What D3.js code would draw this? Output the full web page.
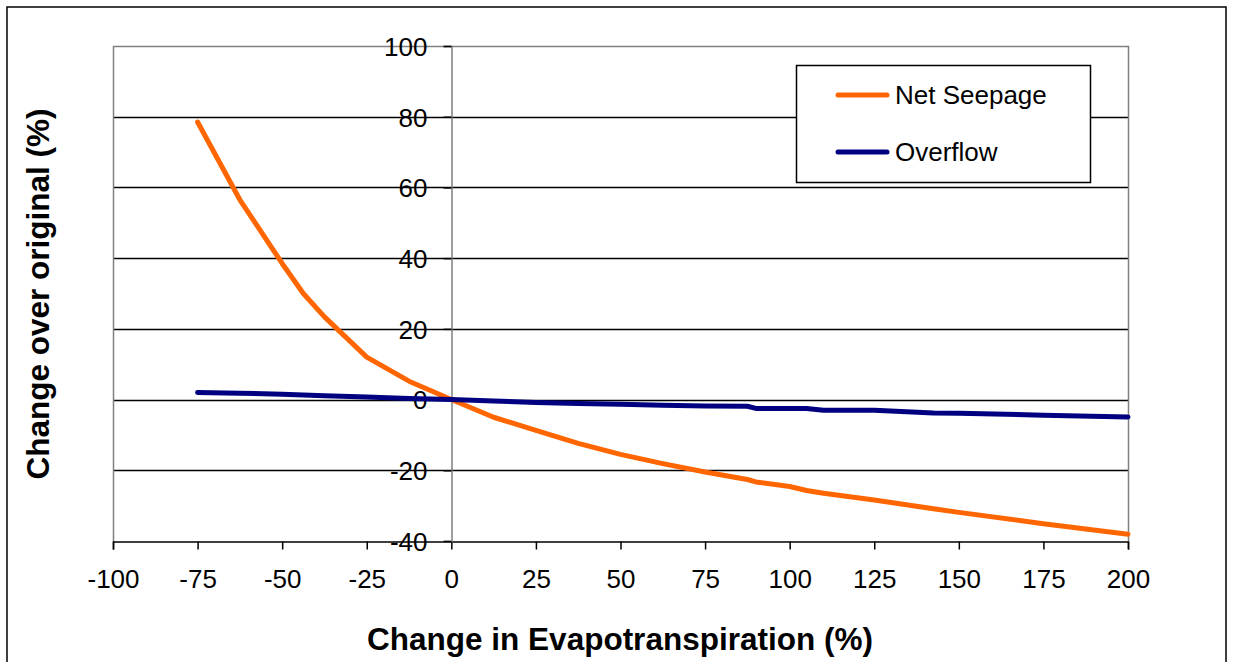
<!DOCTYPE html>
<html>
<head>
<meta charset="utf-8">
<script src="https://cdn.jsdelivr.net/npm/d3@7"></script>
<style>
  html, body { margin: 0; padding: 0; background: #fff; }
  svg { display: block; }
  text { font-family: "Liberation Sans", Arial, sans-serif; }
</style>
</head>
<body>
<svg id="chart" width="1236" height="662"></svg>
<script>
// ---- data ----
const etChange = [-75, -62.5, -50, -43.75, -37.5, -25, -12.5, 0, 12.5, 25, 37.5, 50, 62.5, 75, 87.5, 90, 100, 105, 110, 125, 142.5, 150, 175, 200];
const netSeepage = [78.5, 56.5, 38.5, 30, 23.4, 12, 5.2, 0, -5, -8.7, -12.4, -15.5, -18.1, -20.5, -22.6, -23.3, -24.6, -25.7, -26.5, -28.4, -30.9, -31.9, -35.1, -38.1];
const overflow = [2.0, 1.8, 1.5, 1.3, 1.1, 0.7, 0.3, 0, -0.4, -0.8, -1.1, -1.3, -1.6, -1.8, -1.9, -2.5, -2.5, -2.5, -3.0, -3.0, -3.8, -3.9, -4.4, -4.9];
const xTicks = [-100, -75, -50, -25, 0, 25, 50, 75, 100, 125, 150, 175, 200];
const yTicks = [-40, -20, 0, 20, 40, 60, 80, 100];
const seriesNames = ["Net Seepage", "Overflow"];
const seriesColors = ["#FF6600", "#000080"];
const xTitle = "Change in Evapotranspiration (%)";
const yTitle = "Change over original (%)";

(function () {
const svg = d3.select("#chart");
const pL = 113, pR = 1128, pT = 46, pB = 541;
const fmt = d => String(d);

const x = d3.scaleLinear().domain([-100, 200]).range([pL, pR]);
const y = d3.scaleLinear().domain([-40, 100]).range([pB, pT]);

// outer frame
svg.append("rect").attr("x", 7).attr("y", 7).attr("width", 1219).attr("height", 670)
  .attr("fill", "none").attr("stroke", "#000").attr("stroke-width", 1.5);

// gridlines
svg.append("g").selectAll("line").data(yTicks.filter(d => d !== 100 && d !== -40)).join("line")
  .attr("x1", pL).attr("x2", pR)
  .attr("y1", d => Math.round(y(d)) + 0.5).attr("y2", d => Math.round(y(d)) + 0.5)
  .attr("stroke", "#000").attr("stroke-width", 1.5);

// plot border (top, left, right) gray
svg.append("path")
  .attr("d", `M${pL+0.5},${pB} V${pT+0.5} H${pR+0.5} V${pB}`)
  .attr("fill", "none").attr("stroke", "#808080").attr("stroke-width", 1.5);

// x axis at y = -40
const xAxis = d3.axisBottom(x).tickValues(xTicks).tickSize(8).tickPadding(20).tickFormat(fmt);
const gx = svg.append("g").attr("transform", `translate(0,${Math.round(y(-40)) + 0.5})`).call(xAxis);
gx.select(".domain").attr("stroke", "#000").attr("stroke-width", 1.5);
gx.selectAll(".tick line").attr("stroke", "#000").attr("stroke-width", 1.5);
gx.selectAll(".tick text").attr("font-size", 26).attr("fill", "#000")
  .style("font-family", '"Liberation Sans", Arial, sans-serif');

// y axis at x = 0
const yAxis = d3.axisLeft(y).tickValues(yTicks).tickSize(8).tickPadding(16).tickFormat(fmt);
const gy = svg.append("g").attr("transform", `translate(${Math.round(x(0)) + 0.5},0)`).call(yAxis);
gy.select(".domain").attr("stroke", "#808080").attr("stroke-width", 1.5);
gy.selectAll(".tick line").attr("stroke", "#000").attr("stroke-width", 1.5);
gy.selectAll(".tick text").attr("font-size", 26).attr("fill", "#000").attr("dy", "0.36em")
  .style("font-family", '"Liberation Sans", Arial, sans-serif');

// lines
const series = [netSeepage, overflow];
const line = d3.line().x((d, i) => x(etChange[i])).y(d => y(d));
series.forEach((vals, k) => {
  svg.append("path").datum(vals).attr("d", line)
    .attr("fill", "none").attr("stroke", seriesColors[k]).attr("stroke-width", 5)
    .attr("stroke-linejoin", "round").attr("stroke-linecap", "round");
});

// legend
const lg = svg.append("g");
lg.append("rect").attr("x", 796.5).attr("y", 65.5).attr("width", 294).attr("height", 117)
  .attr("fill", "#fff").attr("stroke", "#000").attr("stroke-width", 1.5);
const legendY = [95, 152];
seriesNames.forEach((name, k) => {
  lg.append("line").attr("x1", 838).attr("x2", 887).attr("y1", legendY[k]).attr("y2", legendY[k])
    .attr("stroke", seriesColors[k]).attr("stroke-width", 5).attr("stroke-linecap", "round");
  lg.append("text").attr("x", 895).attr("y", legendY[k]).attr("dy", "0.36em")
    .attr("font-size", 26).attr("fill", "#000").text(name);
});

// axis titles
svg.append("text").attr("x", 620).attr("y", 639).attr("dy", "0.36em").attr("text-anchor", "middle")
  .attr("font-size", 31.5).attr("font-weight", "bold").attr("fill", "#000").text(xTitle);
svg.append("text").attr("transform", "translate(38,294) rotate(-90)").attr("dy", "0.36em")
  .attr("text-anchor", "middle").attr("font-size", 31.5).attr("font-weight", "bold").attr("fill", "#000").text(yTitle);
})();
</script>
</body>
</html>
